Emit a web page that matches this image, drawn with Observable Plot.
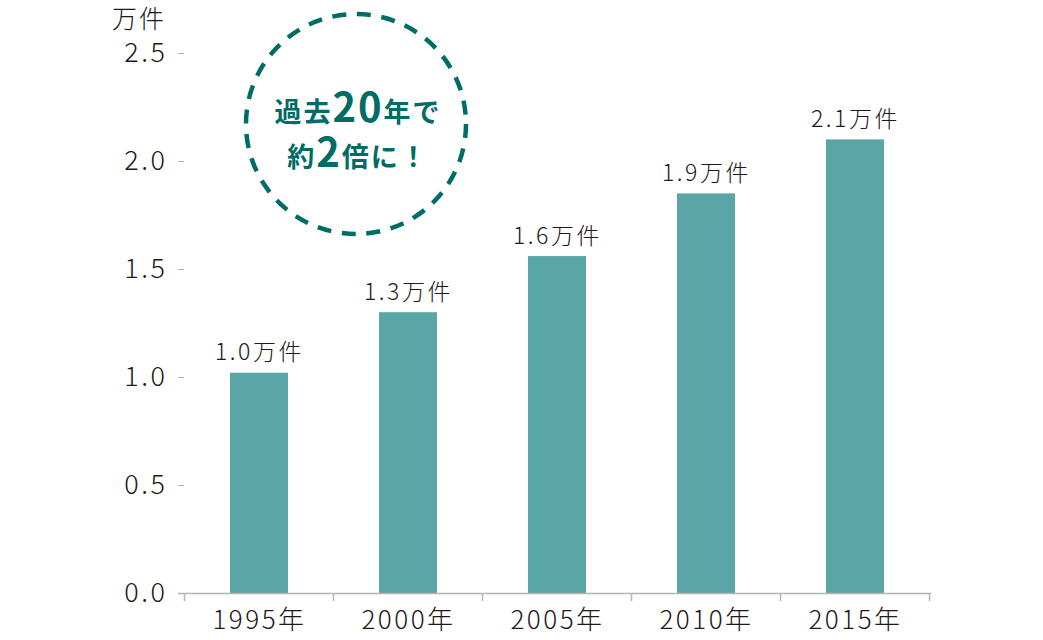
<!DOCTYPE html>
<html>
<head>
<meta charset="utf-8">
<script src="https://cdn.jsdelivr.net/npm/d3@7"></script>
<script src="https://cdn.jsdelivr.net/npm/@observablehq/plot@0.6"></script>
<style>
  html, body { margin: 0; padding: 0; background: #fff; }
  #chart svg { display: block; }
</style>
</head>
<body>
<div id="chart"></div>
<script>
// ---- data ----
const categories = ["1995年", "2000年", "2005年", "2010年", "2015年"];
const values = [1.02, 1.30, 1.56, 1.85, 2.10];
const yTicks = [0, 0.5, 1.0, 1.5, 2.0, 2.5];
const unitLabel = "万件";
const calloutLine1 = [["過去", false], ["20", true], ["年で", false]];
const calloutLine2 = [["約", false], ["2", true], ["倍に！", false]];

const data = categories.map((c, i) => ({category: c, value: values[i]}));

const FONT = "'Noto Sans CJK JP', 'Noto Sans', sans-serif";
const TEXT = "#231815";
const TEAL = "#006c66";
const BAR = "#5aa5a6";
const GRAY = "#b4b4b4";

// boundary ticks along the x axis (between bands)
function boundaryTicks(index, scales, values, dims) {
  const x = scales.x, y = scales.y;
  const bw = typeof x.bandwidth === "function" ? x.bandwidth() : x.bandwidth;
  const step = x(categories[1]) - x(categories[0]);
  const pad = (step - bw) / 2;
  const xs = categories.map(c => x(c) - pad);
  xs.push(x(categories[categories.length - 1]) + bw + pad);
  const y0 = y(0);
  const g = d3.create("svg:g").attr("stroke", GRAY).attr("stroke-width", 1.5);
  for (const xv of xs) {
    g.append("line").attr("x1", xv).attr("x2", xv).attr("y1", y0).attr("y2", y0 + 8);
  }
  return g.node();
}

// dashed circle callout
function callout(index, scales, values, dims) {
  const cx = dims.marginLeft + 172, cy = dims.marginTop + 71;
  const g = d3.create("svg:g");
  g.append("circle").attr("cx", cx).attr("cy", cy).attr("r", 110)
    .attr("fill", "none").attr("stroke", TEAL).attr("stroke-width", 4.5)
    .attr("stroke-dasharray", "14 10.7");
  const lines = [[calloutLine1, cy - 2], [calloutLine2, cy + 43]];
  for (const [parts, by] of lines) {
    const t = g.append("text").attr("x", cx + 2).attr("y", by)
      .attr("text-anchor", "middle").attr("fill", TEAL)
      .attr("font-family", FONT).attr("font-weight", "bold")
      .attr("letter-spacing", 2);
    for (const [s, big] of parts) {
      t.append("tspan").attr("font-size", big ? 40 : 27).text(s);
    }
  }
  return g.node();
}

// unit label top-left
function unitText(index, scales, values, dims) {
  return d3.create("svg:text").attr("x", 166).attr("y", 28)
    .attr("text-anchor", "end").attr("fill", TEXT).attr("font-weight", 300)
    .attr("letter-spacing", 2)
    .attr("font-family", FONT).attr("font-size", 25).text(unitLabel).node();
}

const chart = Plot.plot({
  width: 1043,
  height: 640,
  marginLeft: 184,
  marginRight: 113,
  marginTop: 53,
  marginBottom: 47,
  style: {fontFamily: FONT, fontSize: "27px", color: TEXT, background: "#fff", fontWeight: 300, letterSpacing: "2.5px"},
  x: {domain: categories, paddingInner: 0.61, paddingOuter: 0.305, label: null},
  y: {domain: [0, 2.5], label: null},
  marks: [
    Plot.barY(data, {x: "category", y: "value", fill: BAR}),
    Plot.ruleY([0], {stroke: GRAY, strokeWidth: 1.5, insetLeft: -6, insetRight: -1}),
    boundaryTicks,
    Plot.axisY({ticks: yTicks, tickFormat: d3.format(".1f"), tickSize: 6, tickPadding: 11,
      stroke: GRAY, fill: TEXT, fontSize: 27, label: null}),
    Plot.axisX({tickSize: 0, tickPadding: 17, fill: TEXT, fontSize: 26, label: null}),
    Plot.text(data, {x: "category", y: "value", text: d => d3.format(".1f")(d.value) + "万件",
      dy: -13, lineAnchor: "bottom", fill: TEXT, fontSize: 23}),
    callout,
    unitText
  ]
});
document.getElementById("chart").appendChild(chart);
</script>
</body>
</html>
